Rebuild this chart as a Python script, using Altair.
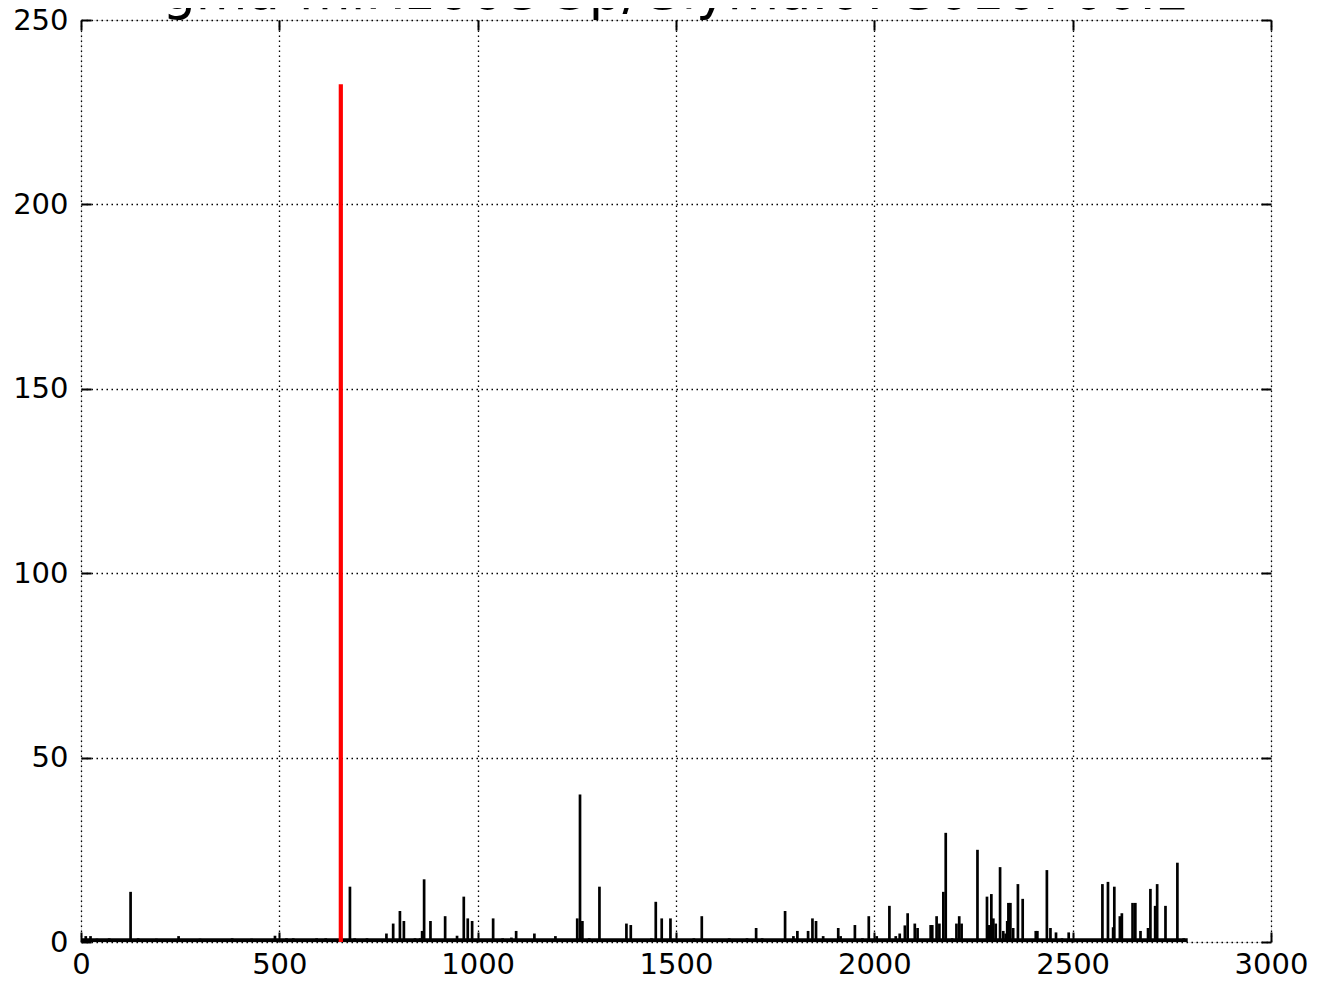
import altair as alt
import pandas as pd

TITLE = "gma-miR166e-3p/Glyma.07G010700.2"

# black vertical lines (position, count)
positions = [12, 24, 40, 71, 125, 144, 190, 246, 300, 381, 430, 489, 518, 535, 594, 617,
             678, 690, 721, 770, 787, 804, 814, 842, 855, 860, 865, 881, 918, 948, 965, 975,
             986, 1039, 1063, 1085, 1097, 1143, 1196, 1251, 1258, 1264, 1281, 1307, 1375, 1386,
             1438, 1449, 1464, 1486, 1545, 1565, 1634, 1679, 1702, 1717, 1775, 1796, 1806, 1833,
             1844, 1853, 1871, 1909, 1915, 1951, 1970, 1986, 2006, 2038, 2054, 2064, 2077, 2084,
             2102, 2109, 2142, 2146, 2157, 2164, 2174, 2180, 2196, 2207, 2214, 2220, 2260, 2284,
             2289, 2295, 2300, 2306, 2317, 2325, 2331, 2335, 2338, 2343, 2350, 2362, 2374, 2407,
             2411, 2435, 2444, 2458, 2473, 2490, 2575, 2589, 2602, 2605, 2619, 2624, 2651, 2658,
             2671, 2690, 2696, 2708, 2713, 2734, 2764, 2780]
counts = [1.6, 1.6, 0.9, 1.0, 13.6, 1.0, 0.9, 1.6, 0.9, 1.0, 0.9, 1.7, 1.0, 1.0, 1.0, 1.0,
          15.0, 1.0, 1.0, 2.3, 5.0, 8.4, 5.7, 1.0, 1.0, 3.0, 17.0, 5.7, 7.0, 1.7, 12.3, 6.4,
          5.7, 6.4, 1.0, 1.2, 3.0, 2.3, 1.6, 6.4, 40.0, 5.7, 1.0, 15.0, 5.0, 4.6,
          1.0, 10.9, 6.4, 6.4, 1.0, 7.0, 1.0, 1.0, 3.8, 1.0, 8.4, 1.6, 3.0, 3.0,
          6.4, 5.7, 1.6, 3.8, 1.6, 4.6, 1.0, 7.0, 1.6, 9.8, 1.6, 2.3, 4.5, 7.8,
          5.0, 3.8, 4.6, 4.6, 7.0, 5.0, 13.6, 29.6, 1.0, 5.0, 7.0, 5.0, 25.0, 12.3,
          4.6, 13.0, 6.4, 5.0, 20.3, 3.0, 2.3, 5.7, 10.6, 10.6, 3.8, 15.7, 11.7, 3.0,
          3.0, 19.5, 3.8, 2.6, 1.0, 2.6, 15.7, 16.3, 4.0, 15.0, 7.0, 7.8, 10.6, 10.6,
          3.0, 3.8, 14.4, 9.8, 15.7, 9.8, 21.5, 1.0]

# highlighted (red) site
red_positions = [655]
red_counts = [232.6]

# dense low-level background counts, drawn as one band
base_start = [0]
base_end = [2790]
base_level = [1.0]

x_ticks = [0, 500, 1000, 1500, 2000, 2500, 3000]
y_ticks = [0, 50, 100, 150, 200, 250]

FONT = "DejaVu Sans"

df_black = pd.DataFrame({"pos": positions, "count": counts, "zero": 0})
df_red = pd.DataFrame({"pos": red_positions, "count": red_counts, "zero": 0})
df_base = pd.DataFrame({"start": base_start, "end": base_end, "level": base_level, "zero": 0})
df_title = pd.DataFrame({"t": [TITLE]})

xs = alt.Scale(domain=[0, 3000], nice=False, zero=False)
ys = alt.Scale(domain=[0, 250], nice=False)

grid_kw = dict(grid=True, gridColor="black", gridDash=[1.5, 3.5], gridWidth=1.3, gridOpacity=1)
lab_kw = dict(labelFont=FONT, labelFontSize=29, labelColor="black", labelFlush=False,
              labelOverlap=False, title=None, domain=False, ticks=False, tickSize=0, format="d")

x_main = alt.Axis(values=x_ticks, orient="bottom", labelPadding=8, **grid_kw, **lab_kw)
y_main = alt.Axis(values=y_ticks, orient="left", labelPadding=13, **grid_kw, **lab_kw)

tick_kw = dict(labels=False, domain=False, grid=False, title=None, ticks=True,
               tickSize=10, tickWidth=2, tickColor="black", offset=-10)
x_bottom_ticks = alt.Axis(values=x_ticks, orient="bottom", **tick_kw)
x_top_ticks = alt.Axis(values=x_ticks, orient="top", **tick_kw)
y_left_ticks = alt.Axis(values=y_ticks, orient="left", **tick_kw)
y_right_ticks = alt.Axis(values=y_ticks, orient="right", **tick_kw)

base = alt.Chart(df_base).mark_rect(color="black").encode(
    x=alt.X("start:Q", scale=xs, axis=x_main),
    x2="end:Q",
    y=alt.Y("zero:Q", scale=ys, axis=y_main),
    y2="level:Q",
)

black = alt.Chart(df_black).mark_rule(color="black", strokeWidth=2.7).encode(
    x=alt.X("pos:Q", scale=xs, axis=x_bottom_ticks),
    y=alt.Y("zero:Q", scale=ys, axis=y_left_ticks),
    y2="count:Q",
)

red = alt.Chart(df_red).mark_rule(color="#ff0000", strokeWidth=4.2).encode(
    x=alt.X("pos:Q", scale=xs, axis=x_top_ticks),
    y=alt.Y("zero:Q", scale=ys, axis=y_right_ticks),
    y2="count:Q",
)

title = alt.Chart(df_title).mark_text(
    font=FONT, fontSize=53, color="black", align="center", baseline="alphabetic"
).encode(
    text="t:N",
    x=alt.value(595),
    y=alt.value(-11),
)

chart = alt.layer(base, black, red, title).resolve_axis(
    x="independent", y="independent"
).properties(
    width=1190,
    height=922,
    autosize=alt.AutoSizeParams(type="none"),
    padding={"left": 73, "top": 12, "right": 49, "bottom": 38},
).configure_view(
    stroke="black", strokeWidth=2.3
).configure(background="white")

chart.save("out.html", embed_options={"renderer": "svg", "actions": False})
